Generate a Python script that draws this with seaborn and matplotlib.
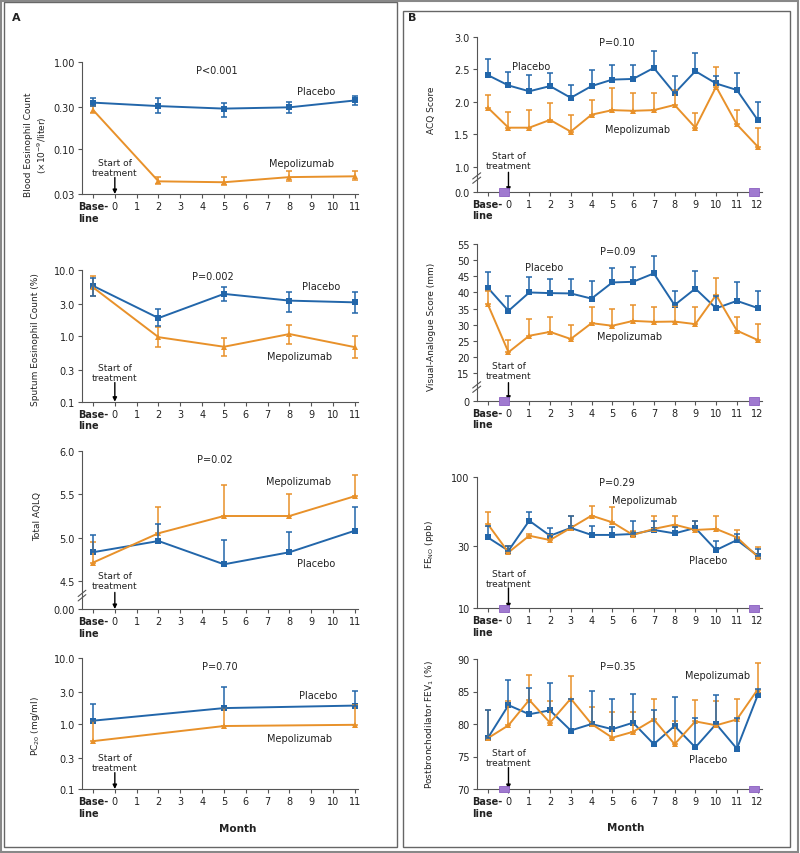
import numpy as np
import pandas as pd
import matplotlib.pyplot as plt
import seaborn as sns
from matplotlib.patches import Rectangle
from matplotlib.ticker import NullLocator

# ---- data ----
months_a = [-1, 2, 5, 8, 11]
months_pc20 = [-1, 5, 11]
months_b = [-1, 0, 1, 2, 3, 4, 5, 6, 7, 8, 9, 10, 11, 12]

blood_placebo = [0.34, 0.31, 0.29, 0.30, 0.36]
blood_placebo_lo = [0.31, 0.26, 0.235, 0.26, 0.316]
blood_placebo_hi = [0.385, 0.38, 0.34, 0.345, 0.405]
blood_mepo = [0.28, 0.042, 0.041, 0.047, 0.048]
blood_mepo_lo = [0.26, 0.039, 0.038, 0.042, 0.044]
blood_mepo_hi = [0.31, 0.0476, 0.0476, 0.055, 0.055]

sputum_placebo = [5.7, 1.85, 4.3, 3.4, 3.2]
sputum_placebo_lo = [4.0, 1.4, 3.4, 2.3, 2.2]
sputum_placebo_hi = [7.4, 2.5, 5.4, 4.6, 4.6]
sputum_mepo = [5.4, 0.95, 0.68, 1.06, 0.67]
sputum_mepo_lo = [4.0, 0.67, 0.5, 0.75, 0.46]
sputum_mepo_hi = [7.9, 1.34, 0.91, 1.45, 0.98]

aqlq_placebo = [4.83, 4.96, 4.69, 4.83, 5.08]
aqlq_placebo_hi = [5.03, 5.16, 4.97, 5.07, 5.35]
aqlq_mepo = [4.71, 5.05, 5.25, 5.25, 5.48]
aqlq_mepo_hi = [4.95, 5.36, 5.61, 5.50, 5.72]

pc20_placebo = [1.11, 1.73, 1.89]
pc20_placebo_hi = [2.0, 3.6, 3.2]
pc20_mepo = [0.54, 0.92, 0.96]
pc20_mepo_hi = [1.1, 1.75, 1.95]

acq_placebo = [2.41, 2.25, 2.16, 2.24, 2.06, 2.24, 2.34, 2.35, 2.52, 2.13, 2.47, 2.28, 2.18, 1.72]
acq_placebo_hi = [2.65, 2.46, 2.41, 2.44, 2.26, 2.49, 2.57, 2.57, 2.78, 2.39, 2.75, 2.40, 2.44, 1.99]
acq_mepo = [1.91, 1.60, 1.60, 1.72, 1.54, 1.80, 1.87, 1.86, 1.87, 1.95, 1.60, 2.23, 1.65, 1.31]
acq_mepo_hi = [2.11, 1.84, 1.87, 1.98, 1.79, 2.02, 2.21, 2.13, 2.13, 2.18, 1.82, 2.54, 1.87, 1.59]

vas_placebo = [41.5, 34.3, 40.0, 39.8, 39.7, 38.1, 43.1, 43.3, 45.9, 36.1, 41.2, 35.1, 37.4, 35.2]
vas_placebo_hi = [46.2, 39.0, 44.8, 44.3, 44.3, 43.6, 47.7, 47.9, 51.3, 40.5, 46.7, 39.0, 43.1, 40.5]
vas_mepo = [36.4, 21.5, 26.6, 27.8, 25.6, 30.5, 29.7, 31.2, 30.9, 31.0, 30.2, 39.2, 28.2, 25.3]
vas_mepo_hi = [40.5, 25.3, 31.8, 32.3, 29.9, 35.4, 34.9, 36.1, 35.4, 35.9, 35.4, 44.6, 32.3, 30.2]

feno_placebo = [34.6, 27.4, 46.3, 35.6, 40.8, 36.1, 36.1, 36.7, 39.4, 37.1, 40.8, 27.7, 33.0, 25.1]
feno_placebo_hi = [42.5, 29.9, 53.5, 40.8, 50.6, 42.0, 41.3, 46.3, 46.3, 41.3, 46.3, 32.3, 36.7, 28.2]
feno_mepo = [43.7, 26.6, 35.6, 33.0, 40.8, 50.6, 45.0, 36.1, 40.1, 43.2, 39.4, 40.1, 34.6, 24.7]
feno_mepo_hi = [54.2, 29.5, 37.0, 36.0, 50.6, 60.3, 58.5, 39.0, 50.6, 50.6, 46.3, 50.6, 39.4, 29.0]

fev_placebo = [77.8, 82.9, 81.5, 82.1, 79.0, 80.0, 79.2, 80.2, 76.9, 79.7, 76.4, 80.0, 76.2, 84.4]
fev_placebo_hi = [82.1, 86.7, 85.5, 86.3, 83.8, 85.1, 83.8, 84.6, 82.1, 84.1, 81.0, 84.5, 81.0, 85.4]
fev_mepo = [77.8, 79.8, 83.7, 80.2, 83.9, 80.0, 77.9, 78.8, 80.7, 76.9, 80.4, 79.8, 80.7, 85.3]
fev_mepo_hi = [82.1, 83.6, 87.5, 83.6, 87.4, 82.6, 81.8, 81.8, 83.8, 80.5, 83.7, 83.6, 83.8, 89.4]

p_values = ["P<0.001", "P=0.002", "P=0.02", "P=0.70", "P=0.10", "P=0.09", "P=0.29", "P=0.35"]

# ---- styling ----
W, H = 800, 854
BLUE = "#2266aa"
ORANGE = "#e8912a"
PURPLE = "#a07ad0"
INK = "#222222"
AXIS = "#555555"


def px_box(x0, y0, x1, y1):
    return [x0 / W, 1 - y1 / H, (x1 - x0) / W, (y1 - y0) / H]


def lo_hi_err(vals, lo, hi):
    return [np.subtract(vals, lo), np.subtract(hi, vals)]


def up_err(vals, hi):
    return [np.zeros(len(vals)), np.subtract(hi, vals)]


def draw_series(ax, months, placebo, placebo_err, mepo, mepo_err):
    df = pd.DataFrame({
        "month": list(months) * 2,
        "value": list(placebo) + list(mepo),
        "group": ["Placebo"] * len(months) + ["Mepolizumab"] * len(months),
    })
    sns.lineplot(data=df, x="month", y="value", hue="group", style="group",
                 palette={"Placebo": BLUE, "Mepolizumab": ORANGE},
                 markers={"Placebo": "s", "Mepolizumab": "^"}, dashes=False,
                 markersize=4, markeredgewidth=0, linewidth=1.4,
                 errorbar=None, legend=False, ax=ax)
    for vals, err, color in [(mepo, mepo_err, ORANGE), (placebo, placebo_err, BLUE)]:
        ax.errorbar(months, vals, yerr=err, fmt="none", ecolor=color,
                    elinewidth=1.1, capsize=2.2, capthick=1.1)


def style_axes(ax, ticks, xlim, ylim, yticks, ylabels, log=False):
    if log:
        ax.set_yscale("log")
    ax.set_xlim(xlim)
    ax.set_ylim(ylim)
    ax.set_yticks(yticks)
    ax.set_yticklabels(ylabels)
    ax.yaxis.set_minor_locator(NullLocator())
    ax.set_xticks(ticks)
    ax.set_xticklabels(["Base-\nline"] + [str(m) for m in ticks[1:]])
    first = ax.get_xticklabels()[0]
    first.set_fontweight("bold")
    first.set_multialignment("left")
    sns.despine(ax=ax)
    for s in ("left", "bottom"):
        ax.spines[s].set_color(AXIS)
        ax.spines[s].set_linewidth(0.8)
    ax.tick_params(labelsize=7, length=3, width=0.8, color=AXIS, labelcolor=INK, pad=2)
    ax.set_xlabel("")


def annotate(ax, cfg, pval):
    ax.set_ylabel(cfg["ylabel"], fontsize=6.5, color=INK, va="center", ha="center")
    ax.yaxis.set_label_coords(*cfg["ylabel_xy"])
    ax.text(*cfg["p_xy"], pval, transform=ax.transAxes, ha="center", va="center",
            fontsize=7, color=INK)
    ax.text(*cfg["plac_xy"], "Placebo", transform=ax.transAxes, ha="center", va="center",
            fontsize=7, color=INK)
    ax.text(*cfg["mepo_xy"], "Mepolizumab", transform=ax.transAxes, ha="center", va="center",
            fontsize=7, color=INK)
    tr = ax.get_xaxis_transform()
    ys = cfg["start_y"]
    ax.text(0, ys, "Start of\ntreatment", transform=tr, ha="center", va="center",
            fontsize=6.5, color=INK, linespacing=1.15)
    ax.annotate("", xy=(0, 0), xycoords=tr, xytext=(0, ys - 0.075), textcoords=tr,
                arrowprops=dict(arrowstyle="-|>", color="black", lw=1,
                                mutation_scale=6, shrinkA=0, shrinkB=0))
    if "break_y" in cfg:
        yb = cfg["break_y"]
        for dy in (-0.014, 0.014):
            ax.plot([-0.014, 0.014], [yb + dy - 0.02, yb + dy + 0.02],
                    transform=ax.transAxes, color=AXIS, lw=0.8, clip_on=False)
    if "month_xy" in cfg:
        ax.set_xlabel("Month", fontsize=7.5, fontweight="bold", color=INK)
        ax.xaxis.set_label_coords(*cfg["month_xy"])


def followup_boxes(ax):
    tr = ax.get_xaxis_transform()
    for x0, x1 in [(-0.45, 0.03), (11.57, 12.07)]:
        ax.add_patch(Rectangle((x0, -0.025), x1 - x0, 0.05, transform=tr, clip_on=False,
                               facecolor=PURPLE, edgecolor="#8a5fc0", lw=0.6, zorder=3))


sns.set_theme(style="ticks")
plt.rcParams["font.family"] = ["DejaVu Sans"]

fig = plt.figure(figsize=(8, 8.54), dpi=100)

xlim_a = (-1.504, 11.14)
xlim_b = (-1.53, 12.21)

panels = [
    dict(box=(82, 63, 358, 195), ylabel="Blood Eosinophil Count\n(×10$^{-9}$/liter)",
         ylabel_xy=(-0.165, 0.38), p_xy=(0.488, 0.94), plac_xy=(0.85, 0.78),
         mepo_xy=(0.796, 0.235), start_y=0.2),
    dict(box=(82, 270.7, 358, 402.7), ylabel="Sputum Eosinophil Count (%)",
         ylabel_xy=(-0.17, 0.475), p_xy=(0.475, 0.955), plac_xy=(0.866, 0.88),
         mepo_xy=(0.79, 0.35), start_y=0.22),
    dict(box=(82, 452.3, 358, 610), ylabel="Total AQLQ",
         ylabel_xy=(-0.16, 0.59), p_xy=(0.482, 0.95), plac_xy=(0.85, 0.29),
         mepo_xy=(0.783, 0.81), start_y=0.18, break_y=0.085),
    dict(box=(82, 659.3, 358, 790), ylabel="PC$\\mathregular{_{20}}$ (mg/ml)",
         ylabel_xy=(-0.17, 0.49), p_xy=(0.5, 0.94), plac_xy=(0.855, 0.72),
         mepo_xy=(0.79, 0.388), start_y=0.2, month_xy=(0.565, -0.26)),
    dict(box=(476.7, 37.7, 762, 192.7), ylabel="ACQ Score",
         ylabel_xy=(-0.158, 0.53), p_xy=(0.49, 0.964), plac_xy=(0.19, 0.813),
         mepo_xy=(0.564, 0.405), start_y=0.2, break_y=0.088),
    dict(box=(476.7, 245, 762, 401.7), ylabel="Visual-Analogue Score (mm)",
         ylabel_xy=(-0.158, 0.48), p_xy=(0.493, 0.957), plac_xy=(0.237, 0.855),
         mepo_xy=(0.537, 0.415), start_y=0.19, break_y=0.087),
    dict(box=(476.7, 477.7, 762, 609.3), ylabel="FE$\\mathregular{_{NO}}$ (ppb)",
         ylabel_xy=(-0.164, 0.496), p_xy=(0.49, 0.96), plac_xy=(0.81, 0.37),
         mepo_xy=(0.59, 0.82), start_y=0.23),
    dict(box=(476.7, 660, 762, 790), ylabel="Postbronchodilator FEV$\\mathregular{_1}$ (%)",
         ylabel_xy=(-0.164, 0.5), p_xy=(0.495, 0.95), plac_xy=(0.81, 0.23),
         mepo_xy=(0.844, 0.88), start_y=0.24, month_xy=(0.523, -0.254)),
]

axes = [fig.add_axes(px_box(*p["box"])) for p in panels]
ticks_a = [-1] + list(range(0, 12))
ticks_b = [-1] + list(range(0, 13))

# A: blood eosinophils
ax = axes[0]
draw_series(ax, months_a, blood_placebo, lo_hi_err(blood_placebo, blood_placebo_lo, blood_placebo_hi),
            blood_mepo, lo_hi_err(blood_mepo, blood_mepo_lo, blood_mepo_hi))
style_axes(ax, ticks_a, xlim_a, (0.03, 1.0), [0.03, 0.1, 0.3, 1.0],
           ["0.03", "0.10", "0.30", "1.00"], log=True)

# A: sputum eosinophils
ax = axes[1]
draw_series(ax, months_a, sputum_placebo, lo_hi_err(sputum_placebo, sputum_placebo_lo, sputum_placebo_hi),
            sputum_mepo, lo_hi_err(sputum_mepo, sputum_mepo_lo, sputum_mepo_hi))
style_axes(ax, ticks_a, xlim_a, (0.1, 10.0), [0.1, 0.3, 1.0, 3.0, 10.0],
           ["0.1", "0.3", "1.0", "3.0", "10.0"], log=True)

# A: AQLQ (broken axis, bottom tick stands for 0)
ax = axes[2]
draw_series(ax, months_a, aqlq_placebo, up_err(aqlq_placebo, aqlq_placebo_hi),
            aqlq_mepo, up_err(aqlq_mepo, aqlq_mepo_hi))
aqlq_floor = 4.172
style_axes(ax, ticks_a, xlim_a, (aqlq_floor, 6.0), [aqlq_floor, 4.5, 5.0, 5.5, 6.0],
           ["0.00", "4.5", "5.0", "5.5", "6.0"])

# A: PC20
ax = axes[3]
draw_series(ax, months_pc20, pc20_placebo, up_err(pc20_placebo, pc20_placebo_hi),
            pc20_mepo, up_err(pc20_mepo, pc20_mepo_hi))
style_axes(ax, ticks_a, xlim_a, (0.1, 10.0), [0.1, 0.3, 1.0, 3.0, 10.0],
           ["0.1", "0.3", "1.0", "3.0", "10.0"], log=True)

# B: ACQ
ax = axes[4]
draw_series(ax, months_b, acq_placebo, up_err(acq_placebo, acq_placebo_hi),
            acq_mepo, up_err(acq_mepo, acq_mepo_hi))
acq_floor = 0.615
style_axes(ax, ticks_b, xlim_b, (acq_floor, 3.0), [acq_floor, 1.0, 1.5, 2.0, 2.5, 3.0],
           ["0.0", "1.0", "1.5", "2.0", "2.5", "3.0"])

# B: visual-analogue score
ax = axes[5]
draw_series(ax, months_b, vas_placebo, up_err(vas_placebo, vas_placebo_hi),
            vas_mepo, up_err(vas_mepo, vas_mepo_hi))
vas_floor = 6.5
style_axes(ax, ticks_b, xlim_b, (vas_floor, 55), [vas_floor] + list(range(15, 56, 5)),
           ["0"] + [str(v) for v in range(15, 56, 5)])

# B: FeNO
ax = axes[6]
draw_series(ax, months_b, feno_placebo, up_err(feno_placebo, feno_placebo_hi),
            feno_mepo, up_err(feno_mepo, feno_mepo_hi))
style_axes(ax, ticks_b, xlim_b, (10, 100), [10, 30, 100], ["10", "30", "100"], log=True)

# B: FEV1
ax = axes[7]
draw_series(ax, months_b, fev_placebo, up_err(fev_placebo, fev_placebo_hi),
            fev_mepo, up_err(fev_mepo, fev_mepo_hi))
style_axes(ax, ticks_b, xlim_b, (70, 90), [70, 75, 80, 85, 90], ["70", "75", "80", "85", "90"])

for ax, cfg, pval in zip(axes, panels, p_values):
    annotate(ax, cfg, pval)
for ax in axes[4:]:
    followup_boxes(ax)

# frames and panel letters
frame_kw = dict(transform=fig.transFigure, fill=False, edgecolor="#666666", lw=1)
for x0, y0, x1, y1 in [(4, 3, 397, 848), (403, 12, 790, 848)]:
    fig.add_artist(Rectangle((x0 / W, 1 - y1 / H), (x1 - x0) / W, (y1 - y0) / H, **frame_kw))
fig.add_artist(Rectangle((1 / W, 1 / H), 797 / W, 851 / H, transform=fig.transFigure,
                         fill=False, edgecolor="#888888", lw=1.5))
fig.text(12 / W, 1 - 18 / H, "A", fontsize=8, fontweight="bold", color=INK, va="center")
fig.text(408 / W, 1 - 18 / H, "B", fontsize=8, fontweight="bold", color=INK, va="center")

fig.savefig("out.png", dpi=100)
